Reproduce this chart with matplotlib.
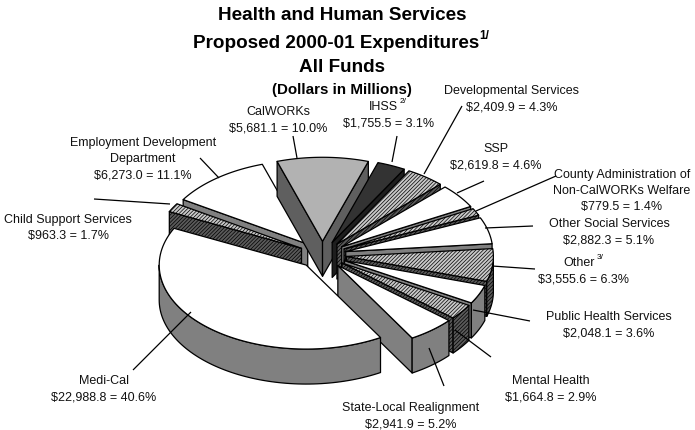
import numpy as np
import matplotlib
matplotlib.use("Agg")
import matplotlib.pyplot as plt
from matplotlib.patches import Polygon

plt.rcParams["font.family"] = ["Liberation Sans", "DejaVu Sans"]
plt.rcParams["hatch.linewidth"] = 0.5

# clockwise from CalWORKs
names = ["CalWORKs", "IHSS", "Developmental Services", "SSP",
         "County Administration of\nNon-CalWORKs Welfare", "Other Social Services",
         "Other", "Public Health Services", "Mental Health",
         "State-Local Realignment", "Medi-Cal", "Child Support Services",
         "Employment Development\nDepartment"]
amounts = [5681.1, 1755.5, 2409.9, 2619.8, 779.5, 2882.3, 3555.6, 2048.1, 1664.8,
           2941.9, 22988.8, 963.3, 6273.0]
shares = [10.0, 3.1, 4.3, 4.6, 1.4, 5.1, 6.3, 3.6, 2.9, 5.2, 40.6, 1.7, 11.1]

title_lines = ["Health and Human Services", "Proposed 2000-01 Expenditures", "All Funds"]
subtitle = "(Dollars in Millions)"

# (top colour, wall colour, top hatch, wall hatch)
WHITE = ("white", "#808080", None, None)
HATCHED = ("#c8c8c8", "#5a5a5a", "/////////", "/////////")
styles = [("#b2b2b2", "#5f5f5f", None, None), ("#333333", "#1e1e1e", None, None),
          HATCHED, WHITE, HATCHED, WHITE, HATCHED, WHITE, HATCHED, WHITE, WHITE,
          HATCHED, WHITE]

# label anchor (centre x, first line y) and leader line ends, in pixels
label_pos = [(278, 112), (389, 107), (512, 91), (496, 149), (622, 175), (609, 224),
             (584, 263), (609, 317), (551, 381), (411, 408), (104, 381), (68, 220),
             (143, 143)]
leaders = [((293, 137), (297, 159)), ((397, 137), (392, 163)), ((462, 107), (424, 175)),
           ((484, 182), (457, 194)), ((556, 177), (476, 212)), ((533, 227), (485, 229)),
           ((492, 267), (535, 270)), ((473, 311), (530, 322)), ((455, 331), (491, 358)),
           ((429, 349), (444, 387)), ((133, 371), (191, 313)), ((94, 200), (170, 205)),
           ((200, 159), (219, 179))]
# superscript footnotes: label index -> (mark, x, y, shift of the name)
notes = {1: ("2/", 400, 102, -6), 6: ("3/", 597, 258, -5)}

CX, CY = 322.5, 256.0
RX, RY = 147.0, 84.0
EXPLODE = 24.0      # in x pixels, squashed with the pie
DEPTH = 35.0
START = -18.0
LINE_H = 16.2
draw_order = [12, 11, 0, 1, 2, 3, 4, 5, 6, 7, 8, 9, 10]


def point(deg, r=1.0):
    a = np.radians(deg)
    return np.column_stack([r * RX * np.sin(a), -r * RY * np.cos(a)])


def draw_poly(ax, pts, face, hatch=None):
    ax.add_patch(Polygon(pts, closed=True, facecolor=face, edgecolor="black",
                         hatch=hatch, linewidth=0.9, joinstyle="round"))


def draw_slice(ax, a0, a1, style):
    top, wall, top_h, wall_h = style
    mid = (a0 + a1) / 2
    tip = np.array([CX, CY]) + EXPLODE / RX * point(mid)[0]
    drop = np.array([0, DEPTH])
    arc = tip + point(np.linspace(a0, a1, 80))
    # radial walls, only those facing the viewer
    if np.sin(np.radians(a0)) < 0:
        draw_poly(ax, [tip, arc[0], arc[0] + drop, tip + drop], wall, wall_h)
    if np.sin(np.radians(a1)) > 0:
        draw_poly(ax, [tip, arc[-1], arc[-1] + drop, tip + drop], wall, wall_h)
    # rim wall, front half only
    lo, hi = max(a0, 90), min(a1, 270)
    if hi > lo:
        rim = tip + point(np.linspace(lo, hi, 80))
        draw_poly(ax, np.vstack([rim, (rim + drop)[::-1]]), wall, wall_h)
    draw_poly(ax, np.vstack([tip, arc]), top, top_h)


fig = plt.figure(figsize=(6.95, 4.31), dpi=100)
ax = fig.add_axes([0, 0, 1, 1])
ax.set_xlim(0, 695)
ax.set_ylim(431, 0)
ax.axis("off")

edges = START + 360 * np.cumsum([0] + amounts) / sum(amounts)
for i in draw_order:
    draw_slice(ax, edges[i], edges[i + 1], styles[i])

for (p, q) in leaders:
    ax.plot([p[0], q[0]], [p[1], q[1]], color="black", lw=0.9, solid_capstyle="butt")

for i, (name, amt, sh, (x, y)) in enumerate(zip(names, amounts, shares, label_pos)):
    rows = name.split("\n")
    shift = notes[i][3] if i in notes else 0
    for k, row in enumerate(rows):
        ax.text(x + shift, y + k * LINE_H, row, ha="center", va="center", fontsize=9.0,
                color="#111111", parse_math=False)
    ax.text(x, y + len(rows) * LINE_H, f"${amt:,.1f} = {sh:.1f}%", ha="center", va="center",
            fontsize=9.0, color="#111111", parse_math=False)
    if i in notes:
        ax.text(notes[i][1], notes[i][2], notes[i][0], ha="left", va="center", fontsize=6)

for y, line, x in zip([15, 43, 67], title_lines, [342, 336, 342]):
    ax.text(x, y, line, ha="center", va="center", fontsize=13.6, fontweight="bold")
ax.text(479, 36, "1/", ha="left", va="center", fontsize=8.5, fontweight="bold")
ax.text(342, 90, subtitle, ha="center", va="center", fontsize=10.9, fontweight="bold")

fig.savefig("out.png", dpi=100)
